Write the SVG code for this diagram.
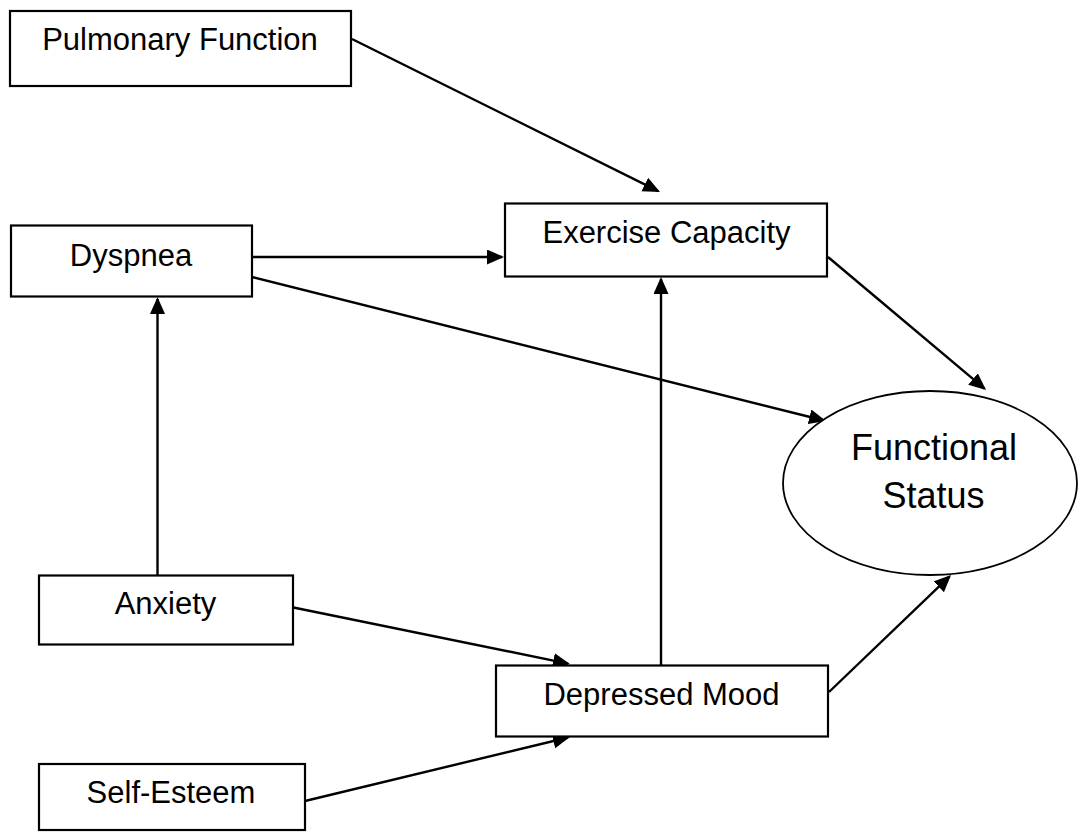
<svg xmlns="http://www.w3.org/2000/svg" width="1079" height="832" viewBox="0 0 1079 832">
  <style>
    .box { fill: #ffffff; stroke: #000000; stroke-width: 2.2; }
    .oval { fill: #ffffff; stroke: #000000; stroke-width: 1.8; }
    .label { font-family: "Liberation Sans", Arial, sans-serif; font-size: 31px; fill: #000000; text-anchor: middle; }
    .big { font-size: 36px; }
    .edge { stroke: #000000; stroke-width: 2.4; fill: none; marker-end: url(#arrow); }
  </style>
  <defs>
    <marker id="arrow" markerUnits="userSpaceOnUse" markerWidth="18" markerHeight="16" refX="15" refY="7.5" orient="auto">
      <path d="M0,0 L17,7.5 L0,15 Z" fill="#000000"/>
    </marker>
  </defs>
  <rect width="1079" height="832" fill="#ffffff"/>

  <g id="connectors">
    <line class="edge" x1="352" y1="39" x2="658.2" y2="191.1"/>
    <line class="edge" x1="252" y1="257" x2="502" y2="257"/>
    <line class="edge" x1="252" y1="277" x2="824.1" y2="420.5"/>
    <line class="edge" x1="828" y1="257" x2="984.5" y2="388.7"/>
    <line class="edge" x1="157.5" y1="575" x2="157.5" y2="299"/>
    <line class="edge" x1="291" y1="607" x2="568" y2="663.6"/>
    <line class="edge" x1="305" y1="801" x2="568" y2="737.5"/>
    <line class="edge" x1="661" y1="665" x2="661" y2="279"/>
    <line class="edge" x1="829" y1="692" x2="949.6" y2="576.4"/>
  </g>

  <g id="pulmonary-function">
    <rect class="box" x="10" y="11" width="341" height="75"/>
    <text class="label" x="180" y="50">Pulmonary Function</text>
  </g>

  <g id="exercise-capacity">
    <rect class="box" x="505" y="203.5" width="322" height="73"/>
    <text class="label" x="666.5" y="243">Exercise Capacity</text>
  </g>

  <g id="dyspnea">
    <rect class="box" x="11" y="225.5" width="241" height="71"/>
    <text class="label" x="131" y="266">Dyspnea</text>
  </g>

  <g id="functional-status">
    <ellipse class="oval" cx="930" cy="483" rx="147" ry="92"/>
    <text class="label big" x="934" y="460">Functional</text>
    <text class="label big" x="933.5" y="508">Status</text>
  </g>

  <g id="anxiety">
    <rect class="box" x="39" y="575.5" width="254" height="69"/>
    <text class="label" x="165.5" y="614">Anxiety</text>
  </g>

  <g id="depressed-mood">
    <rect class="box" x="496" y="665.5" width="332" height="71"/>
    <text class="label" x="661.5" y="705">Depressed Mood</text>
  </g>

  <g id="self-esteem">
    <rect class="box" x="39" y="764" width="266" height="66"/>
    <text class="label" x="171" y="803">Self-Esteem</text>
  </g>
</svg>
